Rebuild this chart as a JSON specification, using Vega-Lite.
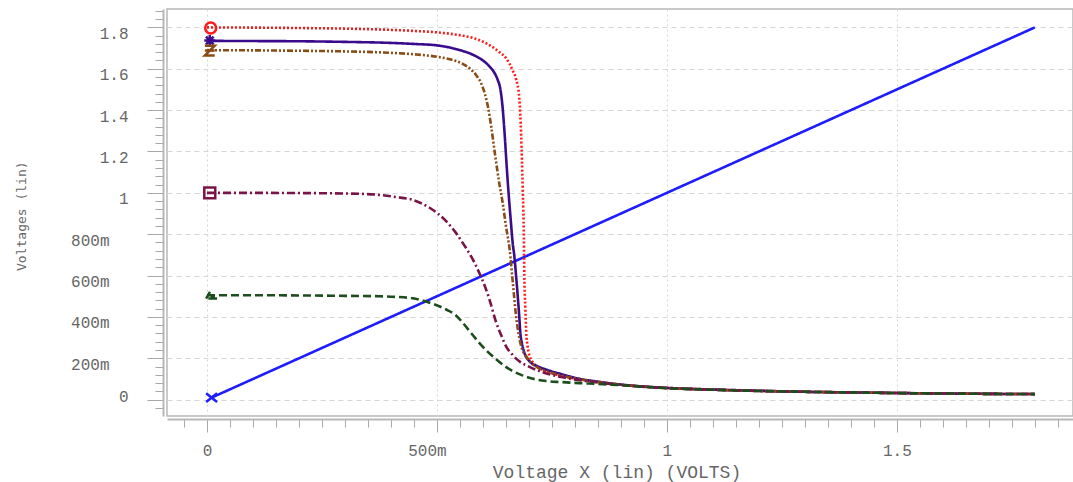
{
  "$schema": "https://vega.github.io/schema/vega-lite/v6.json",
  "autosize": {"type": "none"},
  "width": 906,
  "height": 407,
  "padding": {"left": 167, "top": 9, "right": 0, "bottom": 66},
  "background": "white",
  "config": {
    "view": {"stroke": "#b8b8b8", "strokeWidth": 1.5},
    "axis": {"labelFont": "Liberation Mono", "titleFont": "Liberation Mono", "labelColor": "#666666", "titleColor": "#666666", "tickColor": "#a8a8a8", "domainColor": "#b8b8b8", "domainWidth": 2, "gridColor": "#d6d6d6", "labelOverlap": false, "labelBound": false, "labelFlush": false}
  },
  "datasets": {
    "curves": [
      {"s": "vin", "x": 0.01, "y": 0.01}, {"s": "vin", "x": 1.8, "y": 1.8},
      {"s": "va", "x": 0, "y": 1.8}, {"s": "va", "x": 0.1, "y": 1.799}, {"s": "va", "x": 0.2, "y": 1.797}, {"s": "va", "x": 0.3, "y": 1.794}, {"s": "va", "x": 0.4, "y": 1.788}, {"s": "va", "x": 0.45, "y": 1.783}, {"s": "va", "x": 0.5, "y": 1.776}, {"s": "va", "x": 0.55, "y": 1.762}, {"s": "va", "x": 0.58, "y": 1.748}, {"s": "va", "x": 0.61, "y": 1.72}, {"s": "va", "x": 0.636, "y": 1.68}, {"s": "va", "x": 0.65, "y": 1.652}, {"s": "va", "x": 0.665, "y": 1.59}, {"s": "va", "x": 0.672, "y": 1.55}, {"s": "va", "x": 0.679, "y": 1.46}, {"s": "va", "x": 0.683, "y": 1.28}, {"s": "va", "x": 0.6865, "y": 1.02}, {"s": "va", "x": 0.689, "y": 0.78}, {"s": "va", "x": 0.69, "y": 0.6}, {"s": "va", "x": 0.692, "y": 0.45}, {"s": "va", "x": 0.694, "y": 0.33}, {"s": "va", "x": 0.697, "y": 0.26}, {"s": "va", "x": 0.701, "y": 0.215}, {"s": "va", "x": 0.712, "y": 0.172}, {"s": "va", "x": 0.737, "y": 0.138}, {"s": "va", "x": 0.773, "y": 0.114}, {"s": "va", "x": 0.81, "y": 0.098}, {"s": "va", "x": 0.846, "y": 0.086}, {"s": "va", "x": 0.9, "y": 0.072}, {"s": "va", "x": 1.0, "y": 0.057}, {"s": "va", "x": 1.1, "y": 0.049}, {"s": "va", "x": 1.2, "y": 0.043}, {"s": "va", "x": 1.3, "y": 0.038}, {"s": "va", "x": 1.4, "y": 0.035}, {"s": "va", "x": 1.5, "y": 0.032}, {"s": "va", "x": 1.6, "y": 0.03}, {"s": "va", "x": 1.7, "y": 0.028}, {"s": "va", "x": 1.8, "y": 0.027},
      {"s": "vb", "x": 0, "y": 1.735}, {"s": "vb", "x": 0.1, "y": 1.734}, {"s": "vb", "x": 0.2, "y": 1.733}, {"s": "vb", "x": 0.3, "y": 1.73}, {"s": "vb", "x": 0.4, "y": 1.725}, {"s": "vb", "x": 0.45, "y": 1.72}, {"s": "vb", "x": 0.5, "y": 1.713}, {"s": "vb", "x": 0.55, "y": 1.69}, {"s": "vb", "x": 0.578, "y": 1.668}, {"s": "vb", "x": 0.6, "y": 1.64}, {"s": "vb", "x": 0.614, "y": 1.612}, {"s": "vb", "x": 0.625, "y": 1.58}, {"s": "vb", "x": 0.632, "y": 1.547}, {"s": "vb", "x": 0.638, "y": 1.5}, {"s": "vb", "x": 0.642, "y": 1.43}, {"s": "vb", "x": 0.647, "y": 1.29}, {"s": "vb", "x": 0.651, "y": 1.15}, {"s": "vb", "x": 0.655, "y": 1.02}, {"s": "vb", "x": 0.66, "y": 0.88}, {"s": "vb", "x": 0.665, "y": 0.75}, {"s": "vb", "x": 0.668, "y": 0.7}, {"s": "vb", "x": 0.672, "y": 0.6}, {"s": "vb", "x": 0.676, "y": 0.49}, {"s": "vb", "x": 0.679, "y": 0.4}, {"s": "vb", "x": 0.681, "y": 0.33}, {"s": "vb", "x": 0.685, "y": 0.27}, {"s": "vb", "x": 0.69, "y": 0.227}, {"s": "vb", "x": 0.701, "y": 0.186}, {"s": "vb", "x": 0.72, "y": 0.16}, {"s": "vb", "x": 0.737, "y": 0.146}, {"s": "vb", "x": 0.773, "y": 0.122}, {"s": "vb", "x": 0.81, "y": 0.101}, {"s": "vb", "x": 0.85, "y": 0.087}, {"s": "vb", "x": 0.9, "y": 0.073}, {"s": "vb", "x": 1.0, "y": 0.057}, {"s": "vb", "x": 1.1, "y": 0.049}, {"s": "vb", "x": 1.2, "y": 0.043}, {"s": "vb", "x": 1.3, "y": 0.038}, {"s": "vb", "x": 1.4, "y": 0.035}, {"s": "vb", "x": 1.5, "y": 0.032}, {"s": "vb", "x": 1.6, "y": 0.03}, {"s": "vb", "x": 1.7, "y": 0.028}, {"s": "vb", "x": 1.8, "y": 0.027},
      {"s": "vc", "x": 0, "y": 1.69}, {"s": "vc", "x": 0.1, "y": 1.689}, {"s": "vc", "x": 0.2, "y": 1.687}, {"s": "vc", "x": 0.3, "y": 1.684}, {"s": "vc", "x": 0.4, "y": 1.677}, {"s": "vc", "x": 0.45, "y": 1.67}, {"s": "vc", "x": 0.5, "y": 1.658}, {"s": "vc", "x": 0.53, "y": 1.645}, {"s": "vc", "x": 0.555, "y": 1.625}, {"s": "vc", "x": 0.572, "y": 1.6}, {"s": "vc", "x": 0.585, "y": 1.57}, {"s": "vc", "x": 0.596, "y": 1.53}, {"s": "vc", "x": 0.604, "y": 1.48}, {"s": "vc", "x": 0.611, "y": 1.415}, {"s": "vc", "x": 0.618, "y": 1.32}, {"s": "vc", "x": 0.626, "y": 1.19}, {"s": "vc", "x": 0.636, "y": 1.04}, {"s": "vc", "x": 0.643, "y": 0.95}, {"s": "vc", "x": 0.65, "y": 0.84}, {"s": "vc", "x": 0.658, "y": 0.727}, {"s": "vc", "x": 0.665, "y": 0.565}, {"s": "vc", "x": 0.672, "y": 0.404}, {"s": "vc", "x": 0.679, "y": 0.3}, {"s": "vc", "x": 0.683, "y": 0.259}, {"s": "vc", "x": 0.694, "y": 0.21}, {"s": "vc", "x": 0.723, "y": 0.15}, {"s": "vc", "x": 0.737, "y": 0.138}, {"s": "vc", "x": 0.773, "y": 0.116}, {"s": "vc", "x": 0.81, "y": 0.099}, {"s": "vc", "x": 0.85, "y": 0.086}, {"s": "vc", "x": 0.9, "y": 0.072}, {"s": "vc", "x": 1.0, "y": 0.056}, {"s": "vc", "x": 1.1, "y": 0.048}, {"s": "vc", "x": 1.2, "y": 0.042}, {"s": "vc", "x": 1.3, "y": 0.038}, {"s": "vc", "x": 1.4, "y": 0.035}, {"s": "vc", "x": 1.5, "y": 0.032}, {"s": "vc", "x": 1.6, "y": 0.03}, {"s": "vc", "x": 1.7, "y": 0.028}, {"s": "vc", "x": 1.8, "y": 0.027},
      {"s": "vd", "x": 0, "y": 1.0}, {"s": "vd", "x": 0.1, "y": 1.0}, {"s": "vd", "x": 0.2, "y": 0.999}, {"s": "vd", "x": 0.3, "y": 0.997}, {"s": "vd", "x": 0.375, "y": 0.99}, {"s": "vd", "x": 0.41, "y": 0.98}, {"s": "vd", "x": 0.447, "y": 0.966}, {"s": "vd", "x": 0.484, "y": 0.928}, {"s": "vd", "x": 0.52, "y": 0.863}, {"s": "vd", "x": 0.54, "y": 0.81}, {"s": "vd", "x": 0.556, "y": 0.758}, {"s": "vd", "x": 0.575, "y": 0.69}, {"s": "vd", "x": 0.592, "y": 0.613}, {"s": "vd", "x": 0.604, "y": 0.55}, {"s": "vd", "x": 0.614, "y": 0.485}, {"s": "vd", "x": 0.629, "y": 0.372}, {"s": "vd", "x": 0.64, "y": 0.31}, {"s": "vd", "x": 0.65, "y": 0.259}, {"s": "vd", "x": 0.665, "y": 0.215}, {"s": "vd", "x": 0.679, "y": 0.186}, {"s": "vd", "x": 0.7, "y": 0.16}, {"s": "vd", "x": 0.723, "y": 0.138}, {"s": "vd", "x": 0.773, "y": 0.108}, {"s": "vd", "x": 0.81, "y": 0.094}, {"s": "vd", "x": 0.85, "y": 0.083}, {"s": "vd", "x": 0.9, "y": 0.071}, {"s": "vd", "x": 1.0, "y": 0.056}, {"s": "vd", "x": 1.1, "y": 0.048}, {"s": "vd", "x": 1.2, "y": 0.042}, {"s": "vd", "x": 1.3, "y": 0.038}, {"s": "vd", "x": 1.4, "y": 0.035}, {"s": "vd", "x": 1.5, "y": 0.032}, {"s": "vd", "x": 1.6, "y": 0.03}, {"s": "vd", "x": 1.7, "y": 0.028}, {"s": "vd", "x": 1.8, "y": 0.027},
      {"s": "ve", "x": 0, "y": 0.505}, {"s": "ve", "x": 0.1, "y": 0.505}, {"s": "ve", "x": 0.2, "y": 0.504}, {"s": "ve", "x": 0.3, "y": 0.502}, {"s": "ve", "x": 0.375, "y": 0.5}, {"s": "ve", "x": 0.41, "y": 0.497}, {"s": "ve", "x": 0.447, "y": 0.49}, {"s": "ve", "x": 0.484, "y": 0.469}, {"s": "ve", "x": 0.52, "y": 0.436}, {"s": "ve", "x": 0.54, "y": 0.41}, {"s": "ve", "x": 0.556, "y": 0.372}, {"s": "ve", "x": 0.575, "y": 0.32}, {"s": "ve", "x": 0.592, "y": 0.275}, {"s": "ve", "x": 0.61, "y": 0.232}, {"s": "ve", "x": 0.629, "y": 0.195}, {"s": "ve", "x": 0.647, "y": 0.163}, {"s": "ve", "x": 0.665, "y": 0.138}, {"s": "ve", "x": 0.683, "y": 0.12}, {"s": "ve", "x": 0.701, "y": 0.106}, {"s": "ve", "x": 0.737, "y": 0.09}, {"s": "ve", "x": 0.77, "y": 0.085}, {"s": "ve", "x": 0.81, "y": 0.08}, {"s": "ve", "x": 0.85, "y": 0.076}, {"s": "ve", "x": 0.9, "y": 0.07}, {"s": "ve", "x": 1.0, "y": 0.055}, {"s": "ve", "x": 1.1, "y": 0.048}, {"s": "ve", "x": 1.2, "y": 0.042}, {"s": "ve", "x": 1.3, "y": 0.038}, {"s": "ve", "x": 1.4, "y": 0.035}, {"s": "ve", "x": 1.5, "y": 0.032}, {"s": "ve", "x": 1.6, "y": 0.03}, {"s": "ve", "x": 1.7, "y": 0.028}, {"s": "ve", "x": 1.8, "y": 0.027}
    ],
    "markers": [
      {"s": "vin", "x": 0.01, "y": 0.01},
      {"s": "va", "x": 0.008, "y": 1.797},
      {"s": "vb", "x": 0.006, "y": 1.737},
      {"s": "vc", "x": 0.006, "y": 1.688},
      {"s": "vd", "x": 0.006, "y": 1.0},
      {"s": "ve", "x": 0.01, "y": 0.505}
    ]
  },
  "encoding": {
    "x": {"field": "x", "type": "quantitative", "scale": {"domain": [-0.087, 1.883], "nice": false, "zero": false},
      "axis": {
        "title": "Voltage X (lin) (VOLTS)", "titleFontSize": 18, "titleFontWeight": "normal", "titleX": 449.5, "titleY": 58, "titleBaseline": "alphabetic", "titleAnchor": null,
        "offset": 3, "values": [-0.05, 0, 0.05, 0.1, 0.15, 0.2, 0.25, 0.3, 0.35, 0.4, 0.45, 0.5, 0.55, 0.6, 0.65, 0.7, 0.75, 0.8, 0.85, 0.9, 0.95, 1, 1.05, 1.1, 1.15, 1.2, 1.25, 1.3, 1.35, 1.4, 1.45, 1.5, 1.55, 1.6, 1.65, 1.7, 1.75, 1.8, 1.85],
        "labelExpr": "abs(datum.value*2 - round(datum.value*2)) > 0.001 ? '' : (datum.value == 0 ? '0' : (datum.value < 1 ? round(datum.value*1000) + 'm' : format(datum.value, '~g')))",
        "labelFontSize": 16, "labelPadding": 10, "labelBaseline": "top",
        "labelOffset": {"condition": {"test": "abs(datum.value - 0.5) < 0.001", "value": -10}, "value": 0},
        "tickSize": {"condition": {"test": "abs(datum.value*2 - round(datum.value*2)) < 0.001", "value": 13}, "value": 8},
        "grid": true, "gridDash": [2, 3],
        "gridOpacity": {"condition": {"test": "abs(datum.value*2 - round(datum.value*2)) < 0.001", "value": 1}, "value": 0}
      }},
    "y": {"field": "y", "type": "quantitative", "scale": {"domain": [-0.079, 1.889], "nice": false, "zero": false},
      "axis": {
        "title": "Voltages (lin)", "titleFont": "DejaVu Sans Mono", "titleFontSize": 13, "titleFontWeight": "normal", "titleX": -135, "titleY": 206.7, "titleAngle": -90, "titleBaseline": "bottom", "titleAnchor": null,
        "offset": 4, "values": [-0.08, -0.04, 0, 0.04, 0.08, 0.12, 0.16, 0.2, 0.24, 0.28, 0.32, 0.36, 0.4, 0.44, 0.48, 0.52, 0.56, 0.6, 0.64, 0.68, 0.72, 0.76, 0.8, 0.84, 0.88, 0.92, 0.96, 1, 1.04, 1.08, 1.12, 1.16, 1.2, 1.24, 1.28, 1.32, 1.36, 1.4, 1.44, 1.48, 1.52, 1.56, 1.6, 1.64, 1.68, 1.72, 1.76, 1.8, 1.84, 1.88],
        "labelExpr": "abs(datum.value*5 - round(datum.value*5)) > 0.001 ? '' : (datum.value == 0 ? '0' : (datum.value < 1 ? round(datum.value*1000) + 'm' : format(datum.value, '~g')))",
        "labelFontSize": 16,
        "labelPadding": {"condition": {"test": "datum.value > 0.01 && datum.value < 0.99", "value": 38}, "value": 19},
        "labelOffset": {"condition": {"test": "abs(datum.value) < 0.001", "value": -3}, "value": 6},
        "tickSize": {"condition": {"test": "abs(datum.value*5 - round(datum.value*5)) < 0.001", "value": 16}, "value": 8},
        "grid": true, "gridDash": [5, 4],
        "gridOpacity": {"condition": {"test": "abs(datum.value*5 - round(datum.value*5)) < 0.001", "value": 1}, "value": 0}
      }}
  },
  "layer": [
    {
      "data": {"name": "curves"},
      "mark": {"type": "line", "strokeWidth": 2.6, "interpolate": "monotone", "clip": true},
      "encoding": {
        "color": {"field": "s", "type": "nominal", "legend": null, "scale": {"domain": ["vin", "va", "vb", "vc", "vd", "ve"], "range": ["#1c1cff", "#ff1a1a", "#3a0c8c", "#8a4b14", "#7a1446", "#1c4d1c"]}},
        "strokeDash": {"field": "s", "type": "nominal", "legend": null, "scale": {"domain": ["vin", "va", "vb", "vc", "vd", "ve"], "range": [[1, 0], [2, 2], [1, 0], [6, 2, 2, 2, 2, 2], [8, 3, 2, 3], [8, 4]]}},
        "order": {"field": "x", "type": "quantitative"}
      }
    },
    {
      "data": {"name": "markers"},
      "mark": {"type": "point", "filled": false, "strokeWidth": 2.5, "size": 120, "opacity": 1},
      "encoding": {
        "color": {"field": "s", "type": "nominal", "legend": null},
        "shape": {"field": "s", "type": "nominal", "legend": null, "scale": {"domain": ["vin", "va", "vb", "vc", "vd", "ve"], "range": ["M-1,-0.8L1,0.8M-1,0.8L1,-0.8", "circle", "M-1,0L1,0M0,-1L0,1M-0.7,-0.7L0.7,0.7M-0.7,0.7L0.7,-0.7", "M-0.9,-0.9L0.9,-0.9L-0.9,0.9L0.9,0.9M-0.9,0L0.9,0", "square", "M-1,0.6L-0.3,-0.6M-0.6,0.6L1,0.6M-0.2,0.3L0.6,0.3"]}}
      }
    }
  ]
}
